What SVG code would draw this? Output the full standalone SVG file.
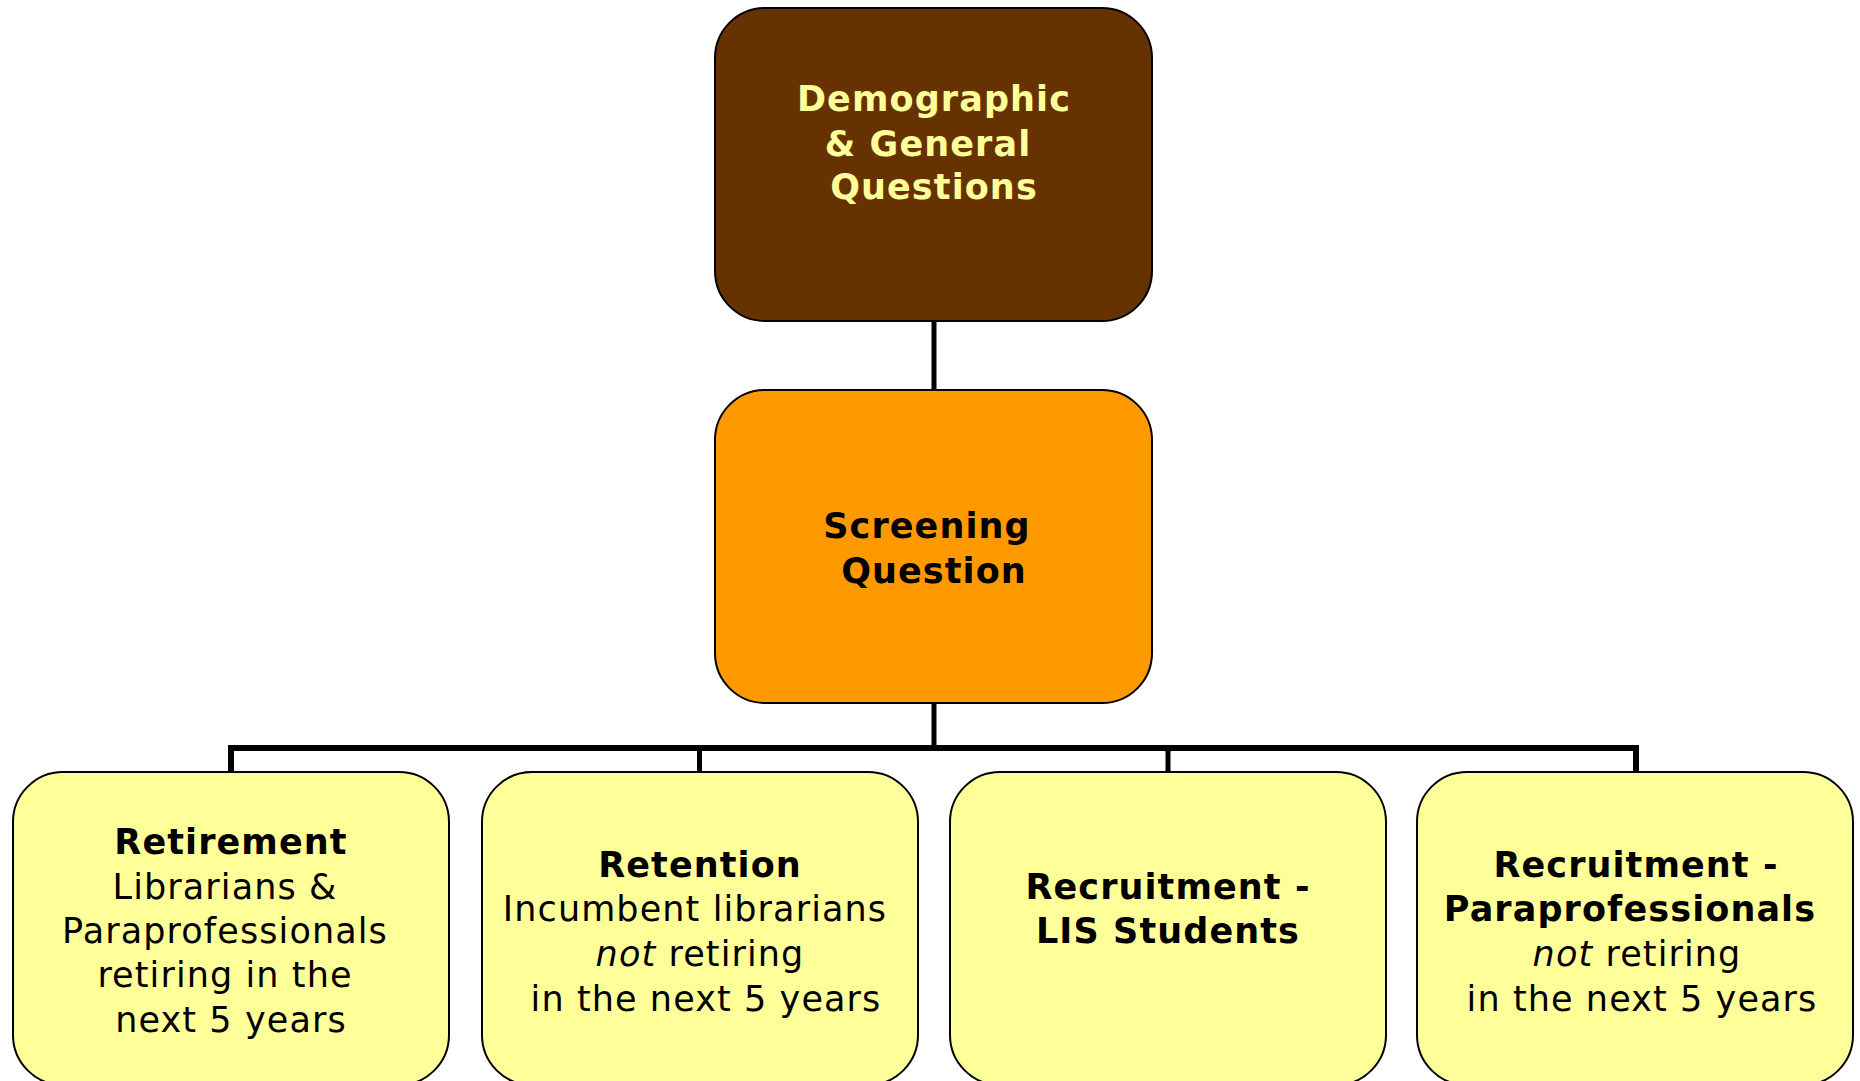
<svg xmlns="http://www.w3.org/2000/svg" width="1860" height="1081" viewBox="0 0 1860 1081">
<style>
.box{stroke:#000;stroke-width:2}
.top{fill:#663300}
.mid{fill:#FF9900}
.leaf{fill:#FFFF99}
text{font-family:"DejaVu Sans","Verdana",sans-serif;font-size:35px;letter-spacing:1.1px;text-anchor:middle;fill:#000}
.b{font-weight:bold}
.lt{fill:#FFFF99}
.conn{fill:none;stroke:#000;stroke-width:5;stroke-linejoin:miter;stroke-linecap:butt}
</style>
<rect width="1860" height="1081" fill="#fff"/>
<g id="connectors">
<path class="conn" d="M934,321 V390"/>
<path class="conn" d="M934,703 V748"/>
<path class="conn" d="M231,772 V748 H1636 V772" style="stroke-width:6"/>
<path class="conn" d="M699.5,748 V772"/>
<path class="conn" d="M1168,748 V772"/>
</g>
<g id="node-demographic">
<rect class="box top" x="715" y="8" width="437" height="313" rx="50"/>
<text class="b lt" x="934" y="111">Demographic</text>
<text class="b lt" x="928" y="156">&amp; General</text>
<text class="b lt" x="934" y="199">Questions</text>
</g>
<g id="node-screening">
<rect class="box mid" x="715" y="390" width="437" height="313" rx="50"/>
<text class="b" x="927" y="538">Screening</text>
<text class="b" x="934" y="583">Question</text>
</g>
<g id="node-retirement">
<rect class="box leaf" x="13" y="772" width="436" height="313" rx="50"/>
<text class="b" x="231" y="854">Retirement</text>
<text x="225" y="899">Librarians &amp;</text>
<text x="225" y="943">Paraprofessionals</text>
<text x="225" y="987">retiring in the</text>
<text x="231" y="1032">next 5 years</text>
</g>
<g id="node-retention">
<rect class="box leaf" x="482" y="772" width="436" height="313" rx="50"/>
<text class="b" x="700" y="877">Retention</text>
<text x="695" y="921">Incumbent librarians</text>
<text x="700" y="966"><tspan font-style="italic">not</tspan> retiring</text>
<text x="706" y="1011">in the next 5 years</text>
</g>
<g id="node-lis">
<rect class="box leaf" x="950" y="772" width="436" height="313" rx="50"/>
<text class="b" x="1168" y="899">Recruitment -</text>
<text class="b" x="1168" y="943">LIS Students</text>
</g>
<g id="node-para">
<rect class="box leaf" x="1417" y="772" width="436" height="313" rx="50"/>
<text class="b" x="1636" y="877">Recruitment -</text>
<text class="b" x="1630" y="921">Paraprofessionals</text>
<text x="1637" y="966"><tspan font-style="italic">not</tspan> retiring</text>
<text x="1642" y="1011">in the next 5 years</text>
</g>
</svg>
